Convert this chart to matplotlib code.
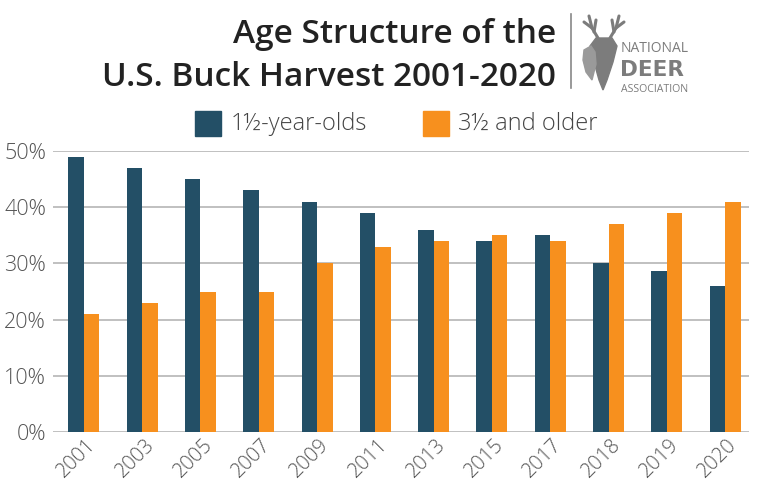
import numpy as np
import matplotlib
matplotlib.use("Agg")
from matplotlib import pyplot as plt
import matplotlib.transforms as mtransforms
from matplotlib.patches import Polygon

# ---------------- data ----------------
years = ["2001", "2003", "2005", "2007", "2009", "2011",
         "2013", "2015", "2017", "2018", "2019", "2020"]
yearling = [49, 47, 45, 43, 41, 39, 36, 34, 35, 30, 28.6, 26]
older = [21, 23, 25, 25, 30, 33, 34, 35, 34, 37, 39, 41]
yticks = [0, 10, 20, 30, 40, 50]

blue = "#234F66"
orange = "#F7901E"
txt = "#444444"

plt.rcParams['font.family'] = ['Open Sans', 'DejaVu Sans']

fig = plt.figure(figsize=(7.6, 4.86), dpi=100)
W, H = 760, 486
ax = fig.add_axes([53 / W, (H - 432) / H, (749 - 53) / W, (432 - 151) / H])

x = np.arange(len(years))
bw = 0.266
ax.bar(x - bw / 2, yearling, bw, color=blue, zorder=3)
ax.bar(x + bw / 2, older, bw, color=orange, zorder=3)

ax.set_ylim(0, 50)
ax.set_xlim(-0.53, 11.41)
ax.set_yticks(yticks)
ax.set_yticklabels([f"{v}%" for v in yticks], fontsize=15.5, color="#555555",
                   fontweight="light")
ax.yaxis.grid(True, color="#BBBBBB", lw=1.3, zorder=0)
ax.tick_params(axis="y", length=0, pad=5)
ax.tick_params(axis="x", length=0, pad=2)
for s in ax.spines.values():
    s.set_visible(False)

ax.set_xticks(x)
ax.set_xticklabels(years, rotation=45, ha="right", va="top",
                   rotation_mode="anchor", fontsize=14.5, color="#555555",
                   fontweight="light")
off = mtransforms.ScaledTranslation(2 / 100, 0, fig.dpi_scale_trans)
for lab in ax.get_xticklabels():
    lab.set_transform(lab.get_transform() + off)

# title
fig.text(556 / W, 1 - 43 / H, "Age Structure of the", ha="right", va="baseline",
         fontsize=24, fontweight="semibold", color="#222222")
fig.text(556 / W, 1 - 86 / H, "U.S. Buck Harvest 2001-2020", ha="right", va="baseline",
         fontsize=24, fontweight="semibold", color="#222222")
fig.add_artist(plt.Line2D([571 / W, 571 / W], [1 - 88 / H, 1 - 14 / H],
                          color="#888888", lw=1.2))

# logo
gray = "#7C7C7C"
def px(pts):
    return [(a / W, 1 - b / H) for a, b in pts]

head = [(596, 38), (612, 38), (617, 46), (613, 62), (607, 80), (603, 90),
        (599, 80), (594, 62), (590, 46)]
doe = [(584, 50), (591, 46), (595, 52), (596, 64), (592, 80), (586, 72), (583, 60)]
fig.patches.append(Polygon(px(head), closed=True, color=gray, transform=fig.transFigure))
fig.patches.append(Polygon(px(doe), closed=True, color="#9A9A9A", transform=fig.transFigure))
antlers = [
    [(598, 38), (592, 28), (589, 16)],
    [(592, 28), (584, 22)],
    [(594, 32), (596, 20)],
    [(610, 38), (616, 28), (619, 16)],
    [(616, 28), (624, 22)],
    [(614, 32), (612, 20)],
]
for seg in antlers:
    xs, ys = zip(*px(seg))
    fig.add_artist(plt.Line2D(xs, ys, color=gray, lw=2.2, solid_capstyle="round"))

fig.text(621 / W, 1 - 52 / H, "NATIONAL", fontsize=10, color=gray, va="baseline")
fig.text(620 / W, 1 - 75.5 / H, "DEER", fontsize=15.5, fontweight="bold", color=gray,
         va="baseline", family="DejaVu Sans")
fig.text(621 / W, 1 - 91.5 / H, "ASSOCIATION", fontsize=7.6, color=gray, va="baseline")

# legend
fig.patches.append(plt.Rectangle((195 / W, 1 - 136 / H), 26 / W, 25 / H,
                                 color=blue, transform=fig.transFigure))
fig.text(231 / W, 1 - 123.5 / H, "1½-year-olds", fontsize=17, color=txt, va="center",
         fontweight="light")
fig.patches.append(plt.Rectangle((423 / W, 1 - 136 / H), 26 / W, 25 / H,
                                 color=orange, transform=fig.transFigure))
fig.text(458 / W, 1 - 123.5 / H, "3½ and older", fontsize=17, color=txt, va="center",
         fontweight="light")

fig.savefig("out.png", dpi=100)
